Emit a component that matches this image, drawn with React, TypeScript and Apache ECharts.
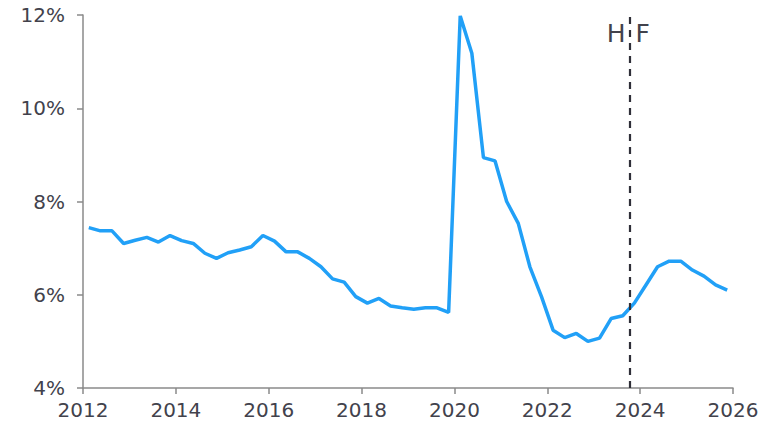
import React, { useEffect, useRef } from "react";
import * as echarts from "echarts";

// Quarterly periods (Q1 2012 .. Q4 2025)
const quarters: string[] = [];
for (let y = 2012; y <= 2025; y++) for (let q = 1; q <= 4; q++) quarters.push(`${y}Q${q}`);

// Values in percent
const values: number[] = [
  7.44, 7.37, 7.37, 7.10,
  7.17, 7.23, 7.13, 7.27,
  7.16, 7.10, 6.89, 6.78,
  6.90, 6.96, 7.03, 7.27,
  7.15, 6.92, 6.92, 6.78,
  6.60, 6.34, 6.27, 5.96,
  5.82, 5.92, 5.76, 5.72,
  5.69, 5.72, 5.72, 5.62,
  11.98, 11.18, 8.94, 8.87,
  8.00, 7.53, 6.60, 5.96,
  5.24, 5.08, 5.17, 5.00,
  5.07, 5.49, 5.55, 5.82,
  6.21, 6.60, 6.72, 6.72,
  6.53, 6.40, 6.21, 6.10,
];

const xTicks = [2012, 2014, 2016, 2018, 2020, 2022, 2024, 2026];
const yTicks = [4, 6, 8, 10, 12];
const forecastStart = 2023.77;
const dividerLabels = ["H", "F"];

const quarterToX = (q: string) => {
  const year = parseInt(q.slice(0, 4), 10);
  const qn = parseInt(q.slice(5), 10);
  return year + (qn - 0.5) / 4;
};

const FONT = "DejaVu Sans, Verdana, sans-serif";
const TEXT = "#42424c";
const AXIS = "#8a8a8a";

export default function App() {
  const ref = useRef<HTMLDivElement>(null);
  useEffect(() => {
    if (!ref.current) return;
    const chart = echarts.init(ref.current, undefined, { renderer: "svg" });
    const data = quarters.map((q, i) => [quarterToX(q), values[i]]);
    chart.setOption({
      animation: false,
      textStyle: { fontFamily: FONT },
      grid: { left: 83, right: 30, top: 15, bottom: 44, containLabel: false },
      xAxis: {
        type: "value",
        min: xTicks[0],
        max: xTicks[xTicks.length - 1],
        interval: 2,
        axisLine: { show: true, lineStyle: { color: AXIS, width: 1.5 } },
        axisTick: { show: true, length: 6, lineStyle: { color: AXIS, width: 1.5 } },
        axisLabel: {
          formatter: (v: number) => String(v),
          color: TEXT,
          fontSize: 20,
          fontFamily: FONT,
          margin: 12,
        },
        splitLine: { show: false },
      },
      yAxis: {
        type: "value",
        min: yTicks[0],
        max: yTicks[yTicks.length - 1],
        interval: 2,
        axisLine: { show: true, onZero: false, lineStyle: { color: AXIS, width: 1.5 } },
        axisTick: { show: true, length: 6, lineStyle: { color: AXIS, width: 1.5 } },
        axisLabel: {
          formatter: "{value}%",
          color: TEXT,
          fontSize: 20,
          fontFamily: FONT,
          margin: 18,
        },
        splitLine: { show: false },
      },
      series: [
        {
          type: "line",
          data,
          showSymbol: false,
          symbol: "none",
          lineStyle: { color: "#21a0f7", width: 3.5 },
          markLine: {
            silent: true,
            symbol: "none",
            label: { show: false },
            lineStyle: { color: "#2f2f38", type: [7, 6], width: 2.2 },
            data: [{ xAxis: forecastStart }],
          },
        },
      ],
    });
    const px = chart.convertToPixel({ xAxisIndex: 0, yAxisIndex: 0 }, [forecastStart, 12]) as number[];
    chart.setOption({
      graphic: [
        {
          type: "text",
          x: px[0] - 4,
          y: 33,
          style: {
            text: dividerLabels[0],
            fontSize: 25,
            fontFamily: FONT,
            fill: TEXT,
            align: "right",
            verticalAlign: "middle",
          },
        },
        {
          type: "text",
          x: px[0] + 6,
          y: 33,
          style: {
            text: dividerLabels[1],
            fontSize: 25,
            fontFamily: FONT,
            fill: TEXT,
            align: "left",
            verticalAlign: "middle",
          },
        },
      ],
    });
    return () => chart.dispose();
  }, []);
  return (
    <div
      ref={ref}
      style={{ position: "absolute", left: 0, top: 0, width: 763, height: 432, background: "#fff" }}
    />
  );
}
